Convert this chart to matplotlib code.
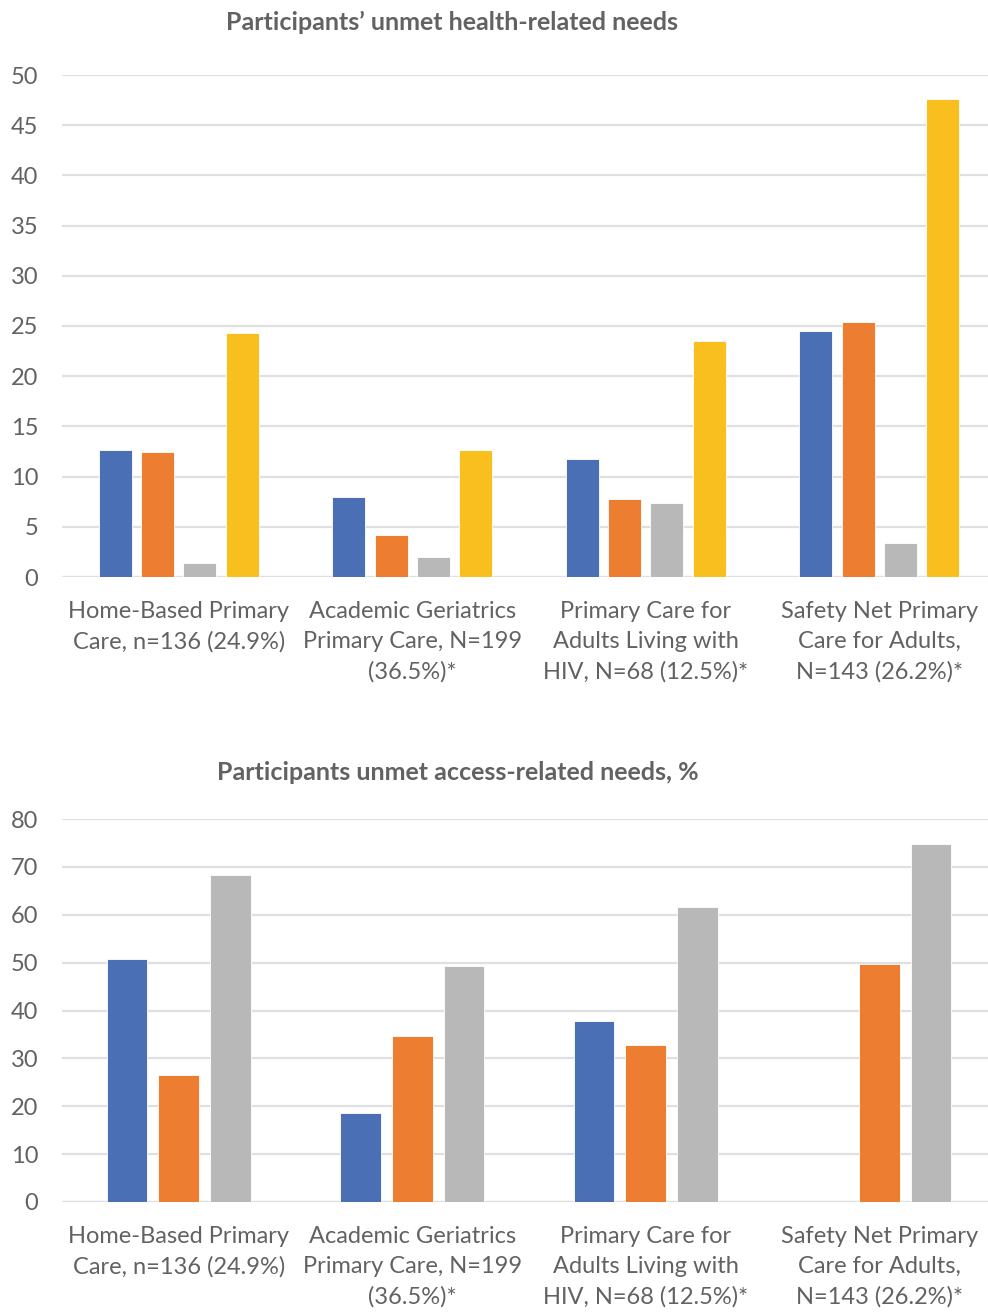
import matplotlib
matplotlib.use("Agg")
import matplotlib.pyplot as plt
import numpy as np

plt.rcParams['font.family'] = ['Lato', 'DejaVu Sans']

categories = [
    "Home-Based Primary\nCare, n=136 (24.9%)",
    "Academic Geriatrics\nPrimary Care, N=199\n(36.5%)*",
    "Primary Care for\nAdults Living with\nHIV, N=68 (12.5%)*",
    "Safety Net Primary\nCare for Adults,\nN=143 (26.2%)*",
]

# Top chart: health-related needs (4 series)
health_s1 = [12.6, 8.0, 11.8, 24.5]
health_s2 = [12.5, 4.2, 7.8, 25.4]
health_s3 = [1.4, 2.0, 7.4, 3.4]
health_s4 = [24.3, 12.6, 23.5, 47.6]

# Bottom chart: access-related needs (3 series)
access_s1 = [50.7, 18.5, 37.9, 0]
access_s2 = [26.5, 34.6, 32.7, 49.7]
access_s3 = [68.3, 49.3, 61.7, 74.8]

title_top = "Participants\u2019 unmet health-related needs"
title_bottom = "Participants unmet access-related needs, %"

colors = ["#4a6fb5", "#ed7d31", "#b8b8b8", "#f8bf1e"]
grid_c = "#e0e0e0"
text_c = "#626262"

W, H = 988, 1312
fig = plt.figure(figsize=(W / 100, H / 100), dpi=100)


def make_axes(top_px, bot_px):
    left = 62 / W
    right = 996 / W
    return fig.add_axes([left, (H - bot_px) / H, right - left, (bot_px - top_px) / H])


def draw(ax, series, pitch, width, ymax, step):
    x = np.arange(len(categories))
    n = len(series)
    for i, vals in enumerate(series):
        off = (i - (n - 1) / 2) * pitch
        ax.bar(x + off, vals, width=width, color=colors[i], zorder=3,
               edgecolor="white", linewidth=0.6)
    ax.set_xlim(-0.5, len(categories) - 0.5)
    ax.set_ylim(0, ymax)
    ax.set_yticks(np.arange(0, ymax + 0.1, step))
    ax.yaxis.grid(True, color=grid_c, linewidth=1.6, zorder=0)
    ax.set_axisbelow(True)
    for s in ax.spines.values():
        s.set_visible(False)
    ax.tick_params(axis='y', length=0, labelsize=17, labelcolor=text_c, pad=17)
    ax.set_xticks(x)
    ax.set_xticklabels(categories, fontsize=17, color=text_c, linespacing=1.54,
                       va='top')
    ax.tick_params(axis='x', length=0, pad=17)
    ax.axhline(0, color=grid_c, linewidth=1.6, zorder=2)


ax1 = make_axes(75, 577)
draw(ax1, [health_s1, health_s2, health_s3, health_s4], 0.181, 0.142, 50, 5)
fig.text(452 / W, 1 - 22 / H, title_top, ha='center', va='center',
         fontsize=18, fontweight='bold', color=text_c)

ax2 = make_axes(819, 1202)
draw(ax2, [access_s1, access_s2, access_s3], 0.221, 0.174, 80, 10)
fig.text(458 / W, 1 - 772 / H, title_bottom, ha='center', va='center',
         fontsize=18, fontweight='bold', color=text_c)

fig.savefig("out.png", dpi=100)
